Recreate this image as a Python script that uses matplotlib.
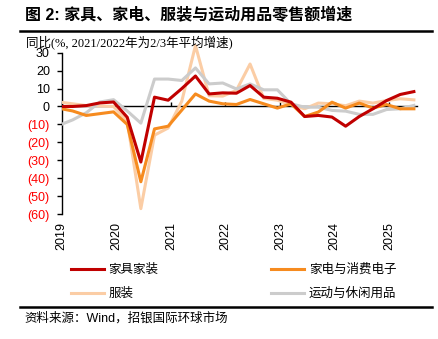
import matplotlib.pyplot as plt
from matplotlib.patches import Rectangle
from matplotlib.lines import Line2D

plt.rcParams['font.family'] = ['Liberation Sans', 'Noto Sans CJK SC']

# quarterly data, 2018Q4 .. 2025Q2
quarters = ['2018Q4',
            '2019Q1', '2019Q2', '2019Q3', '2019Q4',
            '2020Q1', '2020Q2', '2020Q3', '2020Q4',
            '2021Q1', '2021Q2', '2021Q3', '2021Q4',
            '2022Q1', '2022Q2', '2022Q3', '2022Q4',
            '2023Q1', '2023Q2', '2023Q3', '2023Q4',
            '2024Q1', '2024Q2', '2024Q3', '2024Q4',
            '2025Q1', '2025Q2']

furniture = [0, 0, 0.5, 2, 2.5, -6, -31, 5.2, 3.5, 10, 17, 7, 7.6, 7.4,
             11.7, 5.2, 4.6, 2.4, -5.6, -5, -5.9, -11, -5.6, -1.3, 3.3, 6.7, 8.3]
appliances = [-1, -2.5, -5, -4, -3, -10, -42, -12.5, -11, -2, 7, 3, 1.5, 1.1,
              3.9, 1.5, -0.9, 1.5, -5.6, -3.1, 2.4, -0.9, 1.9, -0.9, 1.1, -1.3, -1.3]
apparel = [2.5, 1.5, 0.5, 0.3, 0, -8, -57, -16, -12, 3, 34, 6, 5.8, 9,
           23.7, 4.5, 3.5, 1, -1.3, 1.9, 1.5, 0.4, 3, 1.9, 3.3, 4.3, 3.7]
sports = [-10.5, -7.5, -3.5, 2.5, 3.8, -2.5, -9.3, 15.3, 15.3, 14.5, 21.5, 12.6, 13.1, 9.8,
          12.6, 9.3, 9.3, 1.5, -0.4, -0.4, -2.2, -2.6, -4.4, -4.4, -1.7, -1.3, 0.6]

years = [2019, 2020, 2021, 2022, 2023, 2024, 2025]
y_ticks = [30, 20, 10, 0, -10, -20, -30, -40, -50, -60]

labels = ['家具家装', '家电与消费电子', '服装', '运动与休闲用品']
colors = ['#C00000', '#F68B1F', '#FBCDA5', '#CCCCCC']


def quarter_pos(q):
    # plot each quarter a bit before its end date
    return int(q[:4]) + (int(q[-1]) - 1) * 0.25 + 0.2


x = [quarter_pos(q) for q in quarters]

fig = plt.figure(figsize=(4.39, 3.39), dpi=100)
ax = fig.add_axes([0.1405, 0.3687, 0.8085, 0.4758])

clip = Rectangle((0, -0.5), 1, 2, transform=ax.transAxes)
series = [apparel, sports, appliances, furniture]
order = [2, 3, 1, 0]
for s, i in zip(series, order):
    ln, = ax.plot(x, s, color=colors[i], lw=2.2, solid_joinstyle='round', zorder=3 + order.index(i))
    ln.set_clip_path(clip)

ax.set_xlim(2019.0, 2025.5)
ax.set_ylim(-60, 30)
ax.set_yticks(y_ticks)
ax.set_yticklabels([f'({-v})' if v < 0 else str(v) for v in y_ticks])
for lab, v in zip(ax.get_yticklabels(), y_ticks):
    lab.set_color('#FF0000' if v < 0 else 'black')
ax.tick_params(axis='y', length=3.5, width=1, direction='out', pad=5, labelsize=9)

ax.set_xticks(years)
ax.set_xticklabels([str(y) for y in years], rotation=90)
ax.tick_params(axis='x', length=0, pad=6, labelsize=9)

for sp in ['top', 'right', 'bottom']:
    ax.spines[sp].set_visible(False)
ax.spines['left'].set_linewidth(1)

# zero line with the year ticks
sec = ax.secondary_xaxis(60 / 90)
sec.set_xticks(years)
sec.set_xticklabels([])
sec.tick_params(axis='x', length=3, width=1, direction='out')
sec.spines['bottom'].set_linewidth(1)
sec.spines['top'].set_linewidth(1)

handles = [Line2D([], [], color=colors[i], lw=2.2) for i in [0, 2, 1, 3]]
fig.legend(handles, [labels[i] for i in [0, 2, 1, 3]], ncol=2, frameon=False,
           loc='upper left', bbox_to_anchor=(0.135, 0.255), fontsize=9,
           handlelength=2.64, handletextpad=0.4, columnspacing=9.0, labelspacing=0.95,
           prop={'family': ['Liberation Serif', 'Noto Sans CJK SC'], 'size': 9})

fig.text(25 / 439, 1 - 15 / 339, '图 2: 家具、家电、服装与运动用品零售额增速', fontsize=11.5,
         fontweight='bold', va='center', ha='left')
fig.add_artist(Line2D([20 / 439, 432 / 439], [1 - 31 / 339, 1 - 31 / 339], color='black', lw=1.8))
fig.text(26 / 439, 1 - 42 / 339, '同比(%, 2021/2022年为2/3年平均增速)', fontsize=9, va='center', ha='left',
         family=['Liberation Serif', 'Noto Sans CJK SC'])
fig.add_artist(Line2D([20 / 439, 432 / 439], [1 - 307 / 339, 1 - 307 / 339], color='black', lw=1.8))
fig.text(24 / 439, 1 - 318 / 339, '资料来源：Wind，招银国际环球市场', fontsize=9, va='center', ha='left')

fig.savefig('out.png', dpi=100)
